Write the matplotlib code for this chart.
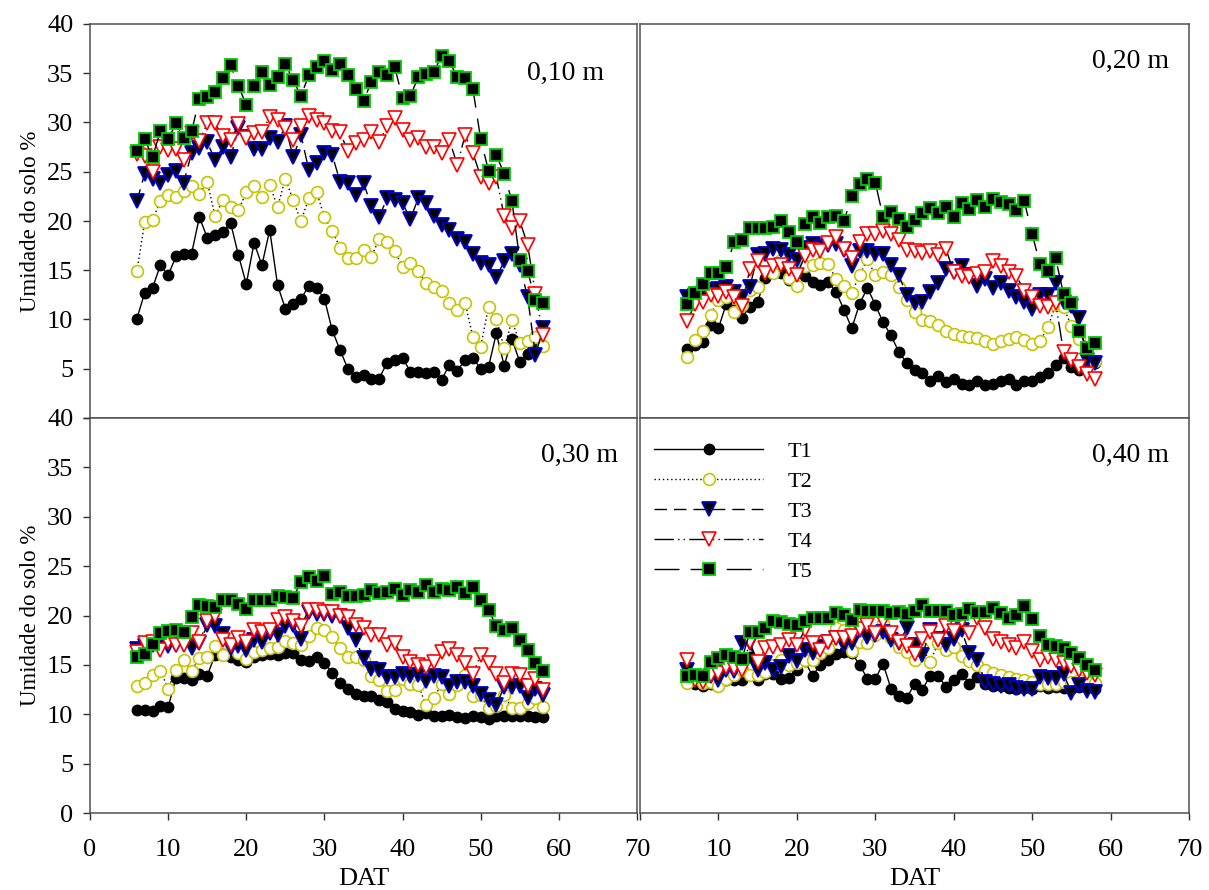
import matplotlib
matplotlib.use("Agg")
import matplotlib.pyplot as plt

plt.rcParams['font.family'] = ['Liberation Serif', 'DejaVu Serif']
plt.rcParams['mathtext.fontset'] = 'stix'

# ---------------- data ----------------
dat = list(range(6, 59))  # DAT (days after transplanting)

depth_labels = ["0,10 m", "0,20 m", "0,30 m", "0,40 m"]
series_names = ["T1", "T2", "T3", "T4", "T5"]

# 0,10 m
d10_t1 = [10.1, 12.7, 13.2, 15.5, 14.5, 16.4, 16.6, 16.7, 20.4, 18.3,
          18.6, 18.9, 19.8, 16.5, 13.6, 17.8, 15.5, 19.1, 13.5, 11.1,
          11.6, 12.1, 13.4, 13.2, 12.1, 8.9, 6.9, 5.0, 4.2, 4.4,
          4.0, 4.0, 5.6, 5.9, 6.1, 4.7, 4.7, 4.6, 4.7, 3.9,
          5.4, 4.8, 5.9, 6.1, 5.0, 5.2, 8.6, 5.3, 8.0, 5.7,
          6.5, 7.0, 7.3]
d10_t2 = [14.9, 19.9, 20.1, 22.0, 22.6, 22.4, 23.0, 23.6, 22.7, 24.0,
          20.5, 22.1, 21.4, 21.1, 22.9, 23.6, 22.4, 23.7, 21.4, 24.3,
          22.1, 20.0, 22.3, 22.9, 20.4, 19.0, 17.3, 16.2, 16.2, 17.1,
          16.3, 18.2, 17.9, 17.0, 15.3, 15.7, 14.9, 13.7, 13.3, 12.9,
          11.7, 11.0, 11.7, 8.2, 7.25, 11.3, 10.1, 7.1, 9.9, 7.6,
          7.8, 8.2, 7.3]
d10_t3 = [22.0, 24.8, 24.3, 23.9, 24.7, 25.1, 23.9, 26.9, 27.4, 28.0,
          26.2, 27.5, 26.5, 29.4, 28.5, 27.3, 27.3, 28.4, 28.0, 29.6,
          26.5, 28.7, 25.2, 25.9, 26.9, 26.7, 24.0, 23.9, 22.6, 23.9,
          21.5, 20.4, 22.3, 22.1, 21.8, 20.2, 22.3, 21.8, 20.5, 19.6,
          19.1, 18.2, 17.9, 16.7, 15.7, 15.5, 14.3, 15.9, 16.7, 15.5,
          12.3, 6.4, 9.1]
d10_t4 = [26.8, 26.6, 25.0, 27.5, 27.2, 27.3, 26.2, 28.9, 28.1, 29.9,
          29.9, 28.6, 28.2, 29.8, 28.4, 28.9, 29.0, 30.6, 30.3, 29.4,
          28.2, 29.6, 30.7, 30.3, 29.9, 29.1, 29.0, 27.1, 27.9, 28.2,
          29.0, 28.0, 29.6, 30.5, 29.2, 28.2, 28.4, 27.5, 27.5, 26.9,
          28.2, 25.7, 28.7, 26.9, 24.5, 23.9, 24.5, 20.5, 19.3, 20.0,
          17.6, 12.6, 8.4]
d10_t5 = [27.1, 28.3, 26.5, 29.1, 28.3, 29.9, 28.4, 29.1, 32.4, 32.6,
          33.1, 34.5, 35.8, 33.7, 31.8, 33.7, 35.1, 33.8, 34.6, 35.9,
          34.3, 32.7, 34.8, 35.6, 36.2, 35.3, 35.9, 34.8, 33.4, 32.2,
          34.1, 35.1, 34.8, 35.6, 32.5, 32.7, 34.6, 34.9, 35.1, 36.8,
          36.2, 34.6, 34.5, 33.4, 28.3, 25.1, 26.7, 24.8, 22.0, 16.0,
          14.9, 12.0, 11.7]

# 0,20 m
d20_t1 = [7.0, 7.4, 7.75, 9.4, 9.1, 11.6, 11.0, 10.2, 11.3, 11.8,
          14.2, 14.7, 14.7, 14.0, 14.7, 14.4, 13.8, 13.5, 13.8, 12.8,
          11.0, 9.1, 11.6, 13.2, 11.5, 9.7, 8.4, 6.7, 5.6, 4.9,
          4.6, 3.8, 4.3, 3.7, 4.0, 3.5, 3.4, 3.8, 3.4, 3.5,
          3.8, 4.0, 3.4, 3.8, 3.8, 4.2, 4.6, 5.4, 6.1, 5.2,
          4.9, 5.7, 5.6]
d20_t2 = [6.2, 7.9, 8.8, 10.5, 12.0, 12.3, 10.8, 11.5, 13.0, 13.3,
          15.4, 14.7, 16.0, 14.2, 13.4, 15.4, 15.5, 15.7, 15.6, 14.1,
          13.4, 12.7, 14.5, 16.1, 14.5, 14.8, 14.5, 13.3, 12.0, 10.8,
          9.9, 9.8, 9.4, 8.8, 8.5, 8.3, 8.2, 8.1, 7.8, 7.5,
          7.8, 8.0, 8.2, 7.9, 7.5, 7.8, 9.2, 11.5, 11.3, 9.3,
          8.0, 6.5, 5.8]
d20_t3 = [12.3, 12.5, 12.7, 13.0, 13.1, 13.3, 12.8, 12.3, 13.3, 16.5,
          16.7, 17.2, 17.1, 16.5, 16.0, 17.3, 17.7, 17.4, 17.6, 17.7,
          17.1, 15.4, 17.0, 17.0, 16.7, 16.7, 15.5, 14.5, 12.5, 11.7,
          11.8, 12.8, 13.7, 15.1, 14.8, 15.4, 14.5, 13.4, 14.1, 13.2,
          13.7, 12.9, 12.3, 11.8, 11.1, 12.5, 12.5, 13.7, 11.8, 11.4,
          10.2, 5.9, 5.6]
d20_t4 = [9.8, 11.6, 11.8, 12.5, 12.4, 12.8, 12.3, 11.4, 15.1, 15.9,
          14.7, 15.4, 15.5, 15.1, 14.5, 16.4, 17.1, 17.0, 17.8, 18.4,
          17.2, 16.2, 17.9, 18.7, 18.7, 19.0, 18.7, 18.1, 17.1, 17.0,
          16.8, 17.0, 16.5, 17.2, 14.8, 14.4, 14.3, 14.6, 14.8, 15.9,
          15.4, 14.8, 14.4, 12.9, 12.3, 11.4, 11.3, 11.7, 6.7, 5.9,
          5.2, 4.5, 4.0]
d20_t5 = [11.6, 12.7, 13.6, 14.7, 14.7, 15.3, 17.9, 18.1, 19.3, 19.3,
          19.3, 19.4, 20.0, 18.9, 17.9, 19.7, 20.4, 19.8, 20.4, 20.5,
          20.0, 22.5, 23.8, 24.3, 23.9, 20.4, 20.9, 20.2, 19.4, 20.1,
          20.8, 21.3, 20.8, 21.4, 20.4, 21.8, 21.2, 22.1, 21.4, 22.2,
          21.9, 21.7, 21.1, 22.0, 18.7, 15.6, 14.9, 16.2, 12.6, 11.7,
          8.8, 7.1, 7.6]

# 0,30 m
d30_t1 = [10.4, 10.4, 10.3, 10.8, 10.7, 13.7, 13.7, 13.5, 14.1, 13.9,
          16.0, 16.1, 15.8, 15.5, 15.3, 15.8, 16.0, 16.1, 16.0, 16.2,
          16.2, 15.5, 15.4, 15.8, 15.2, 14.2, 13.2, 12.6, 12.1, 11.8,
          11.8, 11.4, 11.2, 10.5, 10.3, 10.2, 9.9, 10.1, 9.8, 9.8,
          9.9, 9.7, 9.6, 9.8, 9.7, 9.5, 9.8, 9.8, 9.8, 9.8,
          9.8, 9.7, 9.7]
d30_t2 = [12.9, 13.2, 14.0, 14.4, 12.6, 14.5, 15.5, 14.4, 15.7, 15.8,
          16.9, 16.0, 17.0, 16.2, 15.6, 16.3, 16.5, 16.7, 16.8, 17.4,
          17.2, 17.0, 17.9, 18.7, 18.5, 17.8, 16.7, 15.8, 15.8, 15.5,
          13.9, 13.5, 12.4, 12.5, 13.6, 13.1, 13.0, 10.9, 11.6, 13.1,
          12.1, 13.0, 14.0, 11.8, 11.9, 10.6, 10.8, 11.9, 10.6, 10.6,
          11.1, 11.6, 10.7]
d30_t3 = [16.6, 16.9, 17.0, 16.7, 16.9, 17.0, 17.1, 16.7, 17.2, 19.0,
          18.9, 18.1, 16.7, 16.9, 16.5, 17.5, 17.3, 18.2, 18.0, 18.9,
          19.0, 17.6, 20.4, 20.2, 20.2, 20.0, 19.9, 18.7, 17.5, 15.7,
          14.6, 14.5, 13.8, 13.8, 14.1, 13.9, 14.0, 13.4, 13.9, 13.8,
          12.9, 13.3, 13.3, 12.9, 12.1, 11.4, 10.9, 12.8, 12.8, 12.9,
          11.6, 12.6, 11.9]
d30_t4 = [16.3, 17.2, 17.3, 16.5, 17.3, 17.0, 17.0, 18.2, 17.3, 19.4,
          19.9, 17.5, 17.0, 17.7, 17.3, 18.5, 18.3, 18.5, 19.5, 19.8,
          19.4, 18.9, 20.6, 20.6, 20.4, 20.4, 20.0, 19.8, 19.0, 18.7,
          18.0, 18.0, 17.0, 17.2, 15.8, 15.3, 15.0, 14.8, 15.3, 16.3,
          16.6, 16.0, 15.2, 14.1, 16.0, 15.2, 14.1, 13.2, 14.1, 14.0,
          12.9, 13.6, 12.5]
d30_t5 = [15.8, 16.1, 17.1, 18.2, 18.4, 18.5, 18.3, 19.8, 21.1, 21.0,
          20.9, 21.6, 21.6, 21.2, 20.7, 21.6, 21.6, 21.6, 22.0, 21.9,
          21.8, 23.4, 23.9, 23.5, 24.0, 22.2, 22.4, 22.0, 22.0, 22.1,
          22.6, 22.3, 22.4, 22.7, 22.1, 22.6, 22.4, 23.1, 22.4, 22.7,
          22.6, 22.9, 22.3, 22.9, 21.6, 20.6, 18.9, 18.5, 18.7, 17.5,
          16.5, 15.2, 14.4]

# 0,40 m
d40_t1 = [13.5, 13.1, 12.9, 13.1, 12.9, 13.5, 13.5, 13.5, 15.8, 13.5,
          14.1, 14.1, 13.6, 13.7, 14.5, 15.4, 13.9, 15.0, 15.5, 16.1,
          16.3, 16.2, 15.0, 13.6, 13.6, 15.1, 12.6, 11.8, 11.6, 13.1,
          12.5, 13.9, 13.9, 12.8, 13.5, 14.1, 13.1, 13.8, 13.1, 12.9,
          12.9, 12.7, 12.6, 12.7, 12.6, 12.9, 12.7, 12.8, 12.7, 12.6,
          12.8, 12.7, 12.6]
d40_t2 = [13.2, 14.0, 13.2, 13.3, 12.9, 13.6, 14.0, 14.5, 14.0, 14.0,
          14.3, 15.0, 15.5, 15.0, 15.2, 15.5, 15.5, 16.2, 16.7, 18.7,
          18.5, 16.4, 17.3, 17.2, 18.0, 19.2, 17.7, 16.8, 16.3, 15.5,
          16.7, 15.3, 17.2, 16.5, 16.8, 15.9, 15.4, 15.0, 14.5, 14.2,
          14.0, 13.8, 13.6, 13.5, 13.3, 13.1, 13.1, 13.1, 13.3, 13.3,
          13.5, 13.3, 13.2]
d40_t3 = [14.5, 13.8, 13.6, 13.9, 13.5, 14.5, 14.4, 17.2, 17.2, 14.5,
          15.2, 14.5, 14.8, 15.9, 15.4, 16.5, 16.2, 16.8, 17.3, 17.7,
          17.0, 17.2, 18.5, 17.8, 18.0, 18.3, 17.5, 17.2, 18.7, 17.0,
          16.0, 18.5, 17.6, 17.0, 17.6, 18.5, 16.2, 15.5, 13.3, 13.1,
          12.9, 13.0, 12.7, 12.6, 12.6, 13.8, 13.7, 13.7, 14.1, 12.2,
          13.0, 12.4, 12.3]
d40_t4 = [15.5, 13.5, 13.3, 14.0, 14.2, 14.8, 14.7, 14.5, 17.3, 15.3,
          16.7, 16.8, 17.0, 17.5, 17.0, 18.5, 17.2, 16.5, 17.3, 17.7,
          17.7, 17.9, 18.6, 19.0, 18.2, 19.4, 18.2, 17.3, 16.9, 16.1,
          17.6, 18.3, 17.5, 18.9, 18.4, 19.4, 18.2, 19.7, 18.7, 17.6,
          17.3, 17.0, 16.7, 17.3, 16.4, 15.5, 15.8, 15.5, 15.2, 14.9,
          14.5, 14.2, 14.0]
d40_t5 = [13.9, 14.0, 13.9, 15.3, 15.7, 16.0, 15.8, 15.6, 18.3, 18.3,
          18.7, 19.4, 19.3, 19.1, 19.0, 19.4, 19.7, 19.7, 19.7, 20.3,
          20.1, 19.5, 20.6, 20.5, 20.5, 20.5, 20.3, 20.4, 20.2, 20.5,
          21.1, 20.5, 20.5, 20.5, 20.1, 20.2, 20.7, 20.4, 20.4, 20.8,
          20.3, 19.7, 20.1, 21.0, 19.6, 17.9, 17.0, 16.9, 16.7, 16.2,
          15.7, 15.0, 14.5]

panels = [
    [d10_t1, d10_t2, d10_t3, d10_t4, d10_t5],
    [d20_t1, d20_t2, d20_t3, d20_t4, d20_t5],
    [d30_t1, d30_t2, d30_t3, d30_t4, d30_t5],
    [d40_t1, d40_t2, d40_t3, d40_t4, d40_t5],
]

y_ticks = [0, 5, 10, 15, 20, 25, 30, 35, 40]
x_ticks = [0, 10, 20, 30, 40, 50, 60, 70]

# ---------------- styles ----------------
styles = [
    dict(linestyle='-', marker='o', markersize=7.5, markerfacecolor='black',
         markeredgecolor='black', markeredgewidth=1.0),
    dict(linestyle=(0, (1, 2)), marker='o', markersize=8.5, markerfacecolor='white',
         markeredgecolor='#C8C400', markeredgewidth=1.2),
    dict(linestyle=(0, (9, 5)), marker='v', markersize=9.5, markerfacecolor='black',
         markeredgecolor='#0000CC', markeredgewidth=1.3),
    dict(linestyle=(0, (14, 3, 1, 3, 1, 3)), marker='v', markersize=9.5,
         markerfacecolor='white', markeredgecolor='#FF0000', markeredgewidth=1.2),
    dict(linestyle=(0, (18, 8)), marker='s', markersize=8, markerfacecolor='black',
         markeredgecolor='#00CC00', markeredgewidth=1.3),
]

W, H = 1209, 890
fig = plt.figure(figsize=(W / 100, H / 100), dpi=100)

def fx(px):
    return px / W

def fy(py):
    return 1 - py / H

positions = [
    (fx(90), fy(418), fx(637) - fx(90), fy(24) - fy(418)),
    (fx(640), fy(418), fx(1189) - fx(640), fy(24) - fy(418)),
    (fx(90), fy(813), fx(637) - fx(90), fy(418) - fy(813)),
    (fx(640), fy(813), fx(1189) - fx(640), fy(418) - fy(813)),
]
label_pos = [(0.87, 0.875), (0.893, 0.905), (0.895, 0.905), (0.893, 0.905)]

tick_fs = 19
axes = []
for i, pos in enumerate(positions):
    ax = fig.add_axes(pos)
    axes.append(ax)
    lines = []
    for vals, st, name in zip(panels[i], styles, series_names):
        ln, = ax.plot(dat, vals, color='black', linewidth=1.0, label=name,
                      clip_on=False, **st)
        lines.append(ln)
    ax.set_xlim(0, 70)
    ax.set_ylim(0, 40)
    for sp in ax.spines.values():
        sp.set_color('#505050')
        sp.set_linewidth(1.1)
    ax.text(label_pos[i][0], label_pos[i][1], depth_labels[i], transform=ax.transAxes,
            ha='center', va='center', fontsize=20)

    left = (i % 2 == 0)
    bottom = (i >= 2)
    ax.tick_params(direction='out', length=5, width=1, labelsize=tick_fs,
                   color='#303030')
    ax.tick_params(axis='y', pad=7)
    ax.tick_params(axis='x', pad=14)
    if left:
        ax.set_yticks(y_ticks)
        labels = [str(t) for t in y_ticks]
        if i == 0:
            labels[0] = ''
        ax.set_yticklabels(labels)
        ax.set_ylabel('Umidade do solo %', fontsize=16.5, labelpad=4)
    else:
        ax.set_yticks([])
    if bottom:
        ax.set_xticks(x_ticks)
        labels = [str(t) for t in x_ticks]
        if i == 3:
            labels[0] = ''
        ax.set_xticklabels(labels)
        ax.set_xlabel('DAT', fontsize=19, labelpad=5)
    else:
        ax.set_xticks([])

    if i == 3:
        ax.legend(lines, series_names, loc='upper left', bbox_to_anchor=(0.026, 0.94),
                  frameon=False, fontsize=16, handlelength=4.9, handletextpad=1.1,
                  labelspacing=0.42, numpoints=1, borderpad=0, borderaxespad=0)

fig.savefig('out.png', dpi=100)
